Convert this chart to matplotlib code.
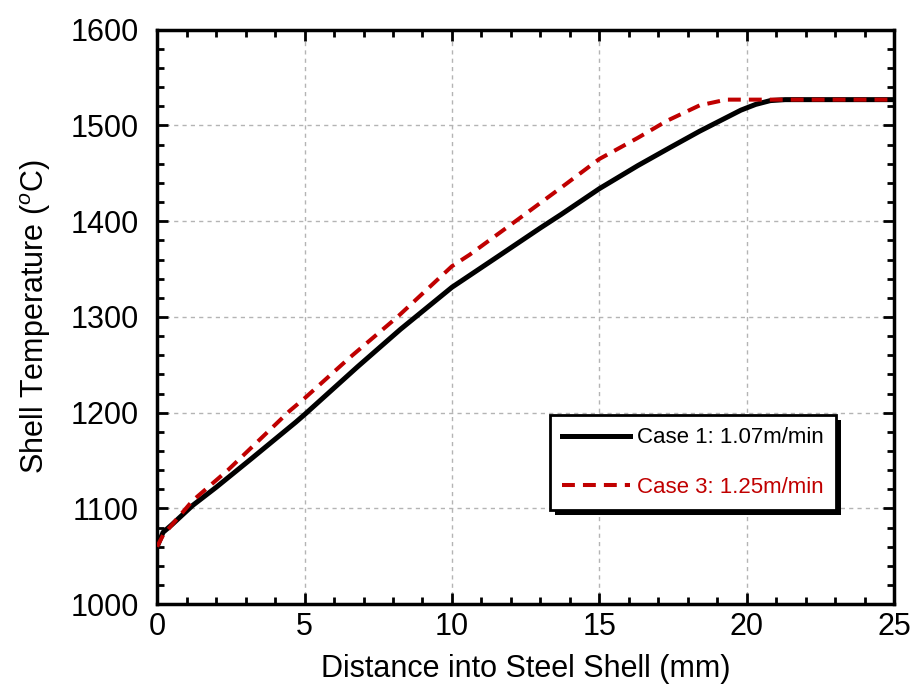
import matplotlib
matplotlib.use('Agg')
import matplotlib.pyplot as plt
from matplotlib.patches import Rectangle
from matplotlib.ticker import MultipleLocator

plt.rcParams['font.family'] = ['Liberation Sans', 'DejaVu Sans']
plt.rcParams['mathtext.fontset'] = 'custom'
plt.rcParams['mathtext.rm'] = 'Liberation Sans'
plt.rcParams['mathtext.it'] = 'Liberation Sans:italic'

# Case 1: 1.07 m/min
dist_c1 = [0, 0.2, 0.5, 1.2, 2.0, 3.2, 4.7, 5.0, 6.8, 8.25, 10.0, 11.6,
           13.0, 13.7, 15.0, 16.3, 17.4, 18.4, 19.8, 20.3, 20.8, 21.3, 25]
temp_c1 = [1060, 1075, 1083, 1103, 1122, 1152, 1190, 1198, 1248, 1287, 1331,
           1364, 1393, 1407, 1434, 1458, 1477, 1494, 1516, 1522, 1526,
           1527, 1527]

# Case 3: 1.25 m/min
dist_c3 = [0, 0.2, 0.45, 1.2, 2.4, 4.5, 5.0, 6.55, 8.15, 10.0, 10.6, 12.2,
           13.7, 15.0, 16.3, 17.3, 18.4, 19.3, 25]
temp_c3 = [1060, 1072, 1081, 1108, 1140, 1202, 1215, 1258, 1300, 1353, 1365,
           1401, 1435, 1465, 1487, 1505, 1521, 1527, 1527]

labels = ['Case 1: 1.07m/min', 'Case 3: 1.25m/min']
colors = ['black', '#C00000']

fig = plt.figure(figsize=(9.19, 6.92), dpi=100)
ax = fig.add_axes([0.171, 0.127, 0.802, 0.830])

ax.plot(dist_c1, temp_c1, color=colors[0], linewidth=3.6, label=labels[0], zorder=3)
ax.plot(dist_c3, temp_c3, color=colors[1], linewidth=2.9, linestyle=(0, (3.2, 2.0)),
        label=labels[1], zorder=4)

ax.set_xlim(0, 25)
ax.set_ylim(1000, 1600)
ax.xaxis.set_major_locator(MultipleLocator(5))
ax.xaxis.set_minor_locator(MultipleLocator(1))
ax.yaxis.set_major_locator(MultipleLocator(100))
ax.yaxis.set_minor_locator(MultipleLocator(20))
ax.tick_params(which='both', direction='in', top=True, right=True, width=2,
               labelsize=22)
ax.tick_params(axis='x', which='major', pad=6)
ax.tick_params(axis='y', which='major', pad=13)
ax.tick_params(which='major', length=8)
ax.tick_params(which='minor', length=5)
for s in ax.spines.values():
    s.set_linewidth(2.5)

ax.grid(True, which='major', color='#b4b4b4', linestyle=(0, (3, 3)), linewidth=1)
ax.set_xlabel('Distance into Steel Shell (mm)', fontsize=22, labelpad=8)
ax.set_ylabel(r'Shell Temperature ($^{o}$C)', fontsize=22, labelpad=13)

leg = ax.legend(loc='upper left', bbox_to_anchor=(0.533, 0.329), borderaxespad=0,
                fontsize=16, labelspacing=1.3, handlelength=3.05, handletextpad=0.3,
                fancybox=False, framealpha=1, edgecolor='black', borderpad=0.55)
leg.get_frame().set_linewidth(2)
leg.set_zorder(10)
for txt, c in zip(leg.get_texts(), colors):
    txt.set_color(c)

# hard drop shadow behind the legend box
fig.canvas.draw()
bb = leg.get_window_extent().transformed(fig.transFigure.inverted())
dx, dy = 5 / 919, -5 / 692
shadow = Rectangle((bb.x0 + dx, bb.y0 + dy), bb.width, bb.height, transform=fig.transFigure,
                   facecolor='black', edgecolor='none', zorder=9, clip_on=False)
ax.add_patch(shadow)

fig.savefig('out.png', dpi=100)
